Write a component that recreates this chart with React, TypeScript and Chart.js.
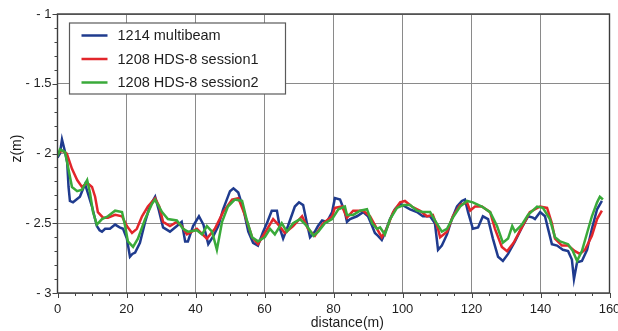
import { useEffect, useRef } from 'react';
import { Chart, registerables } from 'chart.js';

Chart.register(...registerables);

// ---- data (distance in m, z in m) ----
const multibeamX = [0, 0.7, 1.3, 2, 2.8, 3.2, 3.6, 4.5, 5.5, 6.5, 7.3, 8, 9, 10, 11.4, 12.2, 12.9, 13.8, 15.2, 16.7, 18, 19, 20.1, 21, 21.7, 22.5, 23.9, 25.4, 26.5, 27.4, 28.3, 29.3, 30.6, 32.6, 34.6, 36, 37, 37.8, 39.3, 41, 42.3, 43.7, 45.2, 46.6, 48, 50, 51, 52.4, 53.9, 55.3, 56.7, 58.1, 59.6, 60.7, 62.1, 63.6, 64.5, 65.4, 66.8, 68.8, 70, 71.2, 72.3, 73.2, 74.6, 75.5, 76.7, 78.1, 79.6, 80.4, 81.9, 83.3, 83.9, 84.8, 86.8, 88.6, 90, 91.2, 92, 92.9, 94, 94.9, 96.4, 97.8, 99.3, 100.7, 102.2, 104.2, 105.9, 108, 109.4, 110.3, 111.4, 112.9, 114.3, 115.8, 117.2, 118.1, 119, 120.4, 121.9, 123.3, 124.8, 126.2, 127.7, 129.1, 130.6, 132.6, 134.6, 136.4, 137.8, 138.4, 139.9, 141.3, 142.2, 143.3, 144.8, 146.5, 148, 149.1, 149.7, 150.6, 152, 153.5, 154.9, 156.4, 157.8];
const multibeamZ = [-2.03, -2.0, -1.9, -1.97, -2.06, -2.24, -2.34, -2.35, -2.33, -2.31, -2.26, -2.22, -2.3, -2.38, -2.52, -2.55, -2.56, -2.54, -2.54, -2.51, -2.53, -2.54, -2.61, -2.74, -2.72, -2.71, -2.64, -2.49, -2.4, -2.35, -2.31, -2.4, -2.53, -2.56, -2.52, -2.49, -2.63, -2.63, -2.52, -2.45, -2.51, -2.65, -2.59, -2.52, -2.4, -2.27, -2.25, -2.28, -2.4, -2.56, -2.64, -2.66, -2.56, -2.5, -2.41, -2.41, -2.54, -2.61, -2.52, -2.38, -2.35, -2.37, -2.5, -2.6, -2.56, -2.52, -2.48, -2.49, -2.42, -2.32, -2.33, -2.42, -2.49, -2.47, -2.45, -2.42, -2.45, -2.52, -2.57, -2.59, -2.62, -2.57, -2.47, -2.4, -2.36, -2.38, -2.4, -2.42, -2.45, -2.45, -2.5, -2.69, -2.66, -2.58, -2.47, -2.38, -2.34, -2.33, -2.42, -2.54, -2.53, -2.45, -2.47, -2.61, -2.74, -2.77, -2.72, -2.63, -2.53, -2.45, -2.46, -2.47, -2.42, -2.45, -2.54, -2.65, -2.66, -2.69, -2.7, -2.76, -2.9, -2.78, -2.77, -2.69, -2.54, -2.4, -2.34];

const session1X = [0, 1.3, 2.7, 4.2, 5.7, 7.1, 8.6, 10, 10.9, 11.7, 13.2, 14.6, 16.7, 18.7, 20.1, 21.6, 23, 24.5, 26.2, 28.3, 29.5, 30.6, 32.6, 34.6, 36, 37.5, 40.4, 43.3, 45.6, 48, 50.6, 52.4, 54.3, 56.4, 58.1, 60.1, 62.5, 64, 65.9, 68.3, 70.9, 72.6, 74.6, 77, 79.6, 80.4, 82.5, 83.9, 85.7, 88.6, 90.6, 92.6, 94, 95.4, 97.3, 99.3, 100.7, 102.7, 105.1, 107.1, 108.8, 110.3, 110.9, 112.9, 114.6, 116.7, 118.7, 119.6, 121, 123, 125.4, 126.8, 128.8, 130.3, 132.2, 134.6, 136.9, 139.9, 141.9, 143.3, 144.2, 146.2, 148, 150, 151.4, 152.9, 154.9, 156.4, 157.8];
const session1Z = [-2.0, -1.98, -2.0, -2.11, -2.19, -2.24, -2.21, -2.24, -2.31, -2.42, -2.46, -2.46, -2.44, -2.45, -2.52, -2.57, -2.54, -2.45, -2.38, -2.32, -2.38, -2.49, -2.52, -2.49, -2.52, -2.58, -2.54, -2.61, -2.54, -2.42, -2.33, -2.32, -2.44, -2.6, -2.65, -2.57, -2.47, -2.51, -2.57, -2.52, -2.45, -2.54, -2.59, -2.5, -2.45, -2.39, -2.38, -2.46, -2.41, -2.41, -2.45, -2.54, -2.6, -2.54, -2.42, -2.35, -2.34, -2.38, -2.41, -2.45, -2.44, -2.54, -2.6, -2.56, -2.45, -2.37, -2.35, -2.41, -2.38, -2.38, -2.42, -2.54, -2.67, -2.7, -2.64, -2.53, -2.42, -2.38, -2.39, -2.5, -2.61, -2.66, -2.66, -2.7, -2.72, -2.69, -2.59, -2.47, -2.41];

const session2X = [0, 0.7, 2.2, 3, 4.2, 5.7, 7.1, 8.6, 9.4, 10.3, 11.4, 12.9, 14.6, 16.7, 18.7, 19.6, 20.4, 21.9, 23.3, 25.4, 27.4, 28.3, 30.3, 32, 34.6, 36.4, 37.8, 40.4, 41.9, 43.3, 44.8, 46.2, 47.7, 49.4, 51.4, 53.5, 54.9, 56.4, 58.1, 60.1, 61.6, 63, 65, 66.5, 68.3, 70.3, 72.3, 74.2, 75.6, 77.5, 79.6, 81.4, 83.3, 83.9, 85.7, 87.7, 89.7, 91.2, 92.6, 93.5, 94.9, 96.4, 98.4, 100.3, 102.2, 104.2, 105.9, 108, 109.4, 111.4, 112.9, 114.6, 116.7, 118.7, 120.4, 123, 125.4, 127.4, 129.1, 130.6, 131.8, 132.6, 134.6, 136.4, 139, 140.7, 142.7, 144.2, 145.7, 148, 149.4, 150.6, 152, 153.5, 154.9, 156.4, 157.2, 158.1];
const session2Z = [-2.02, -1.97, -1.99, -2.09, -2.24, -2.27, -2.26, -2.19, -2.28, -2.42, -2.51, -2.47, -2.45, -2.41, -2.42, -2.52, -2.63, -2.67, -2.61, -2.47, -2.36, -2.33, -2.42, -2.47, -2.48, -2.54, -2.56, -2.55, -2.58, -2.52, -2.56, -2.69, -2.49, -2.38, -2.33, -2.34, -2.48, -2.6, -2.63, -2.6, -2.54, -2.58, -2.5, -2.56, -2.5, -2.47, -2.52, -2.59, -2.56, -2.5, -2.47, -2.4, -2.38, -2.44, -2.44, -2.41, -2.4, -2.5, -2.54, -2.53, -2.58, -2.47, -2.39, -2.37, -2.37, -2.41, -2.42, -2.42, -2.48, -2.56, -2.54, -2.46, -2.38, -2.34, -2.35, -2.38, -2.42, -2.52, -2.64, -2.61, -2.52, -2.56, -2.51, -2.44, -2.38, -2.39, -2.47, -2.6, -2.63, -2.65, -2.7, -2.77, -2.7, -2.57, -2.45, -2.35, -2.31, -2.33];

const seriesLabels = ['1214 multibeam', '1208 HDS-8 session1', '1208 HDS-8 session2'];
const seriesColors = ['#1f3b8e', '#e2262b', '#3aaa3a'];
const xTitle = 'distance(m)';
const yTitle = 'z(m)';
const yTickLabel = (v: number) => (v < 0 ? '- ' + Math.abs(v) : String(v));

const FONT = '"Liberation Sans", Arial, sans-serif';

const toPoints = (xs: number[], zs: number[]) => xs.map((x, i) => ({ x, y: zs[i] }));

const framePlugin = {
  id: 'frame',
  beforeDraw(chart: any) {
    const { ctx, width, height } = chart;
    ctx.save();
    ctx.fillStyle = '#ffffff';
    ctx.fillRect(0, 0, width, height);
    ctx.restore();
  },
  afterDatasetsDraw(chart: any) {
    const { ctx, chartArea: a, scales } = chart;
    const xs = scales.x;
    const ys = scales.y;
    ctx.save();
    // frame
    ctx.strokeStyle = '#3c3c3c';
    ctx.lineWidth = 1.4;
    ctx.strokeRect(a.left, a.top, a.right - a.left, a.bottom - a.top);
    // x ticks (major every 20, minor every 5)
    ctx.lineWidth = 1;
    ctx.strokeStyle = '#444';
    for (let v = 0; v <= 160; v += 5) {
      const px = Math.round(xs.getPixelForValue(v)) + 0.5;
      const len = v % 20 === 0 ? 5 : 3;
      ctx.beginPath();
      ctx.moveTo(px, a.bottom);
      ctx.lineTo(px, a.bottom + len);
      ctx.stroke();
    }
    // y ticks (major every 0.5, minor every 0.1)
    for (let i = 0; i <= 20; i++) {
      const v = -3 + i * 0.1;
      const py = Math.round(ys.getPixelForValue(v)) + 0.5;
      const len = i % 5 === 0 ? 5 : 3;
      ctx.beginPath();
      ctx.moveTo(a.left - len, py);
      ctx.lineTo(a.left, py);
      ctx.stroke();
    }
    // legend box
    const lx = a.left + 12;
    const ly = a.top + 9;
    const lw = 216;
    const lh = 71;
    ctx.fillStyle = '#ffffff';
    ctx.fillRect(lx, ly, lw, lh);
    ctx.strokeStyle = '#5a5a5a';
    ctx.lineWidth = 1.2;
    ctx.strokeRect(lx, ly, lw, lh);
    ctx.font = '14.5px ' + FONT;
    ctx.textBaseline = 'middle';
    ctx.textAlign = 'left';
    seriesLabels.forEach((label, i) => {
      const cy = ly + 12.5 + i * 23.5;
      ctx.strokeStyle = seriesColors[i];
      ctx.lineWidth = 2.5;
      ctx.beginPath();
      ctx.moveTo(lx + 12, cy);
      ctx.lineTo(lx + 38, cy);
      ctx.stroke();
      ctx.fillStyle = '#1e1e1e';
      ctx.fillText(label, lx + 48, cy + 0.5);
    });
    // axis titles
    ctx.fillStyle = '#1e1e1e';
    ctx.font = '14px ' + FONT;
    ctx.textAlign = 'center';
    ctx.textBaseline = 'middle';
    ctx.fillText(xTitle, xs.getPixelForValue(84), a.bottom + 30);
    ctx.save();
    ctx.translate(17, ys.getPixelForValue(-1.965));
    ctx.rotate(-Math.PI / 2);
    ctx.fillText(yTitle, 0, 0);
    ctx.restore();
    ctx.restore();
  },
};

export default function App() {
  const canvasRef = useRef<HTMLCanvasElement | null>(null);

  useEffect(() => {
    document.body.style.overflow = 'hidden';
    const canvas = canvasRef.current;
    if (!canvas) return;
    const data = [
      toPoints(multibeamX, multibeamZ),
      toPoints(session1X, session1Z),
      toPoints(session2X, session2Z),
    ];
    const chart = new Chart(canvas, {
      type: 'line',
      data: {
        datasets: data.map((d, i) => ({
          label: seriesLabels[i],
          data: d,
          borderColor: seriesColors[i],
          backgroundColor: seriesColors[i],
          borderWidth: 2.5,
          pointRadius: 0,
          tension: 0,
          fill: false,
          order: 3 - i,
        })),
      },
      options: {
        animation: false,
        responsive: false,
        events: [],
        layout: { padding: { top: 14, right: 8.5, bottom: 0, left: 0 } },
        plugins: {
          legend: { display: false },
          tooltip: { enabled: false },
          title: { display: false },
        },
        scales: {
          x: {
            type: 'linear',
            min: 0,
            max: 160,
            ticks: {
              stepSize: 20,
              color: '#1e1e1e',
              font: { family: FONT, size: 13 },
              padding: 9,
              maxRotation: 0,
            },
            grid: { color: '#8a8a8a', lineWidth: 1, drawTicks: false },
            border: { display: false },
            afterFit: (scale: any) => {
              scale.height = 38;
              scale.paddingLeft = 0;
              scale.paddingRight = 0;
            },
          },
          y: {
            type: 'linear',
            min: -3,
            max: -1,
            ticks: {
              stepSize: 0.5,
              color: '#1e1e1e',
              font: { family: FONT, size: 13 },
              padding: 6,
              callback: (v: any) => yTickLabel(Number(v)),
            },
            grid: { color: '#8a8a8a', lineWidth: 1, drawTicks: false },
            border: { display: false },
            afterFit: (scale: any) => {
              scale.width = 57.5;
              scale.paddingTop = 0;
              scale.paddingBottom = 0;
            },
          },
        },
      },
      plugins: [framePlugin],
    });
    return () => chart.destroy();
  }, []);

  return (
    <div style={{ position: 'fixed', left: 0, top: 0, width: 618, height: 331 }}>
      <canvas ref={canvasRef} width={618} height={331} style={{ display: 'block' }} />
    </div>
  );
}
